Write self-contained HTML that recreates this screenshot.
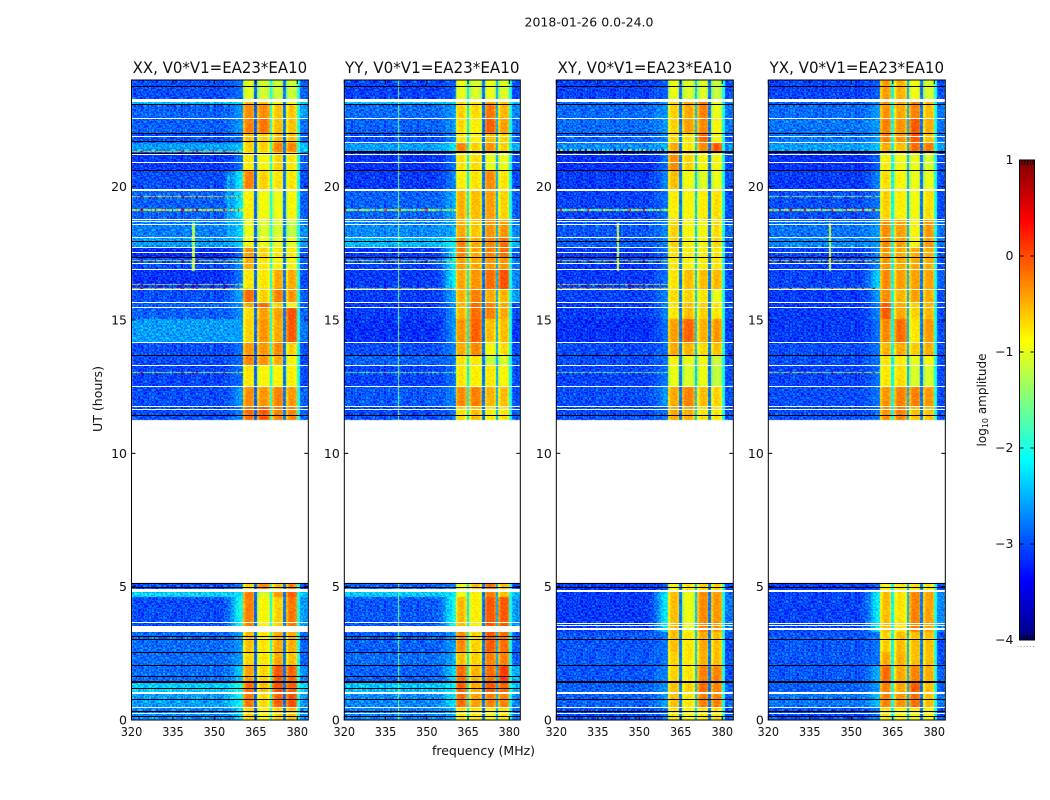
<!DOCTYPE html>
<html lang="en">
<head>
<meta charset="utf-8">
<title>2018-01-26 0.0-24.0</title>
<style>
html,body{margin:0;padding:0;background:#fff;width:1050px;height:800px;overflow:hidden}
#stage{position:relative;width:1050px;height:800px}
canvas{position:absolute;display:block}
svg{position:absolute;left:0;top:0}
text{font-family:"DejaVu Sans","Liberation Sans",sans-serif;fill:#111}
</style>
</head>
<body>
<div id="stage">
<svg id="fig" width="1050" height="800" viewBox="0 0 1050 800">
  <text x="589" y="26.5" font-size="12" text-anchor="middle" textLength="129" lengthAdjust="spacingAndGlyphs">2018-01-26 0.0-24.0</text>
  <text x="483.5" y="755" font-size="12" text-anchor="middle" textLength="103" lengthAdjust="spacingAndGlyphs">frequency (MHz)</text>
  <text transform="translate(102 399) rotate(-90)" font-size="12" text-anchor="middle" textLength="66" lengthAdjust="spacingAndGlyphs">UT (hours)</text>
  <text transform="translate(986 400) rotate(-90)" font-size="12" text-anchor="middle">log<tspan font-size="8" dy="2">10</tspan><tspan dy="-2"> amplitude</tspan></text>
</svg>
</div>
<script>
/* ---------- axes ---------- */
const xTickValues = [320, 335, 350, 365, 380];
const yTickValues = [0, 5, 10, 15, 20];
const colorbarTickValues = [1, 0, -1, -2, -3, -4];
const freqRange = [320, 384];
const timeRange = [0, 24];
const colorRange = [-4, 1];
const dataGapUT = [5.14, 11.23];

/* ---------- polarisation panels ---------- */
const panelLabels = ['XX', 'YY', 'XY', 'YX'];
const panelTitles = ['XX, V0*V1=EA23*EA10', 'YY, V0*V1=EA23*EA10', 'XY, V0*V1=EA23*EA10', 'YX, V0*V1=EA23*EA10'];

/* ---------- spectrum shape (MHz) ---------- */
const bandEdgesMHz = [[360.4, 364.7], [365.7, 370.2], [371, 375.2], [376, 380]];
const stripeEdgeProfile = [-0.3, -0.1, 0, 0, 0.03, 0, 0, -0.05, -0.2];
const midRampStartMHz = 352;
const midRampWeights = [0, 0.05, 0.1, 0.2, 0.35, 0.55, 0.75, 0.9, 1];
const shoulderLevel = -2.0;
const gapLevelsXX = [-2.9, -2.0, -2.8];
const gapLevelsYY = [-2.2, -2.8, -2.5];
const gapLevelsXY = [-2.8, -2.4, -2.8];
const gapLevelsYX = [-2.1, -2.5, -2.8];

/* ---------- time blocks: [top UT, low, mid, band1, band2, band3, band4, high] log10 amplitude ---------- */
const blocksXX = [
[24,-3.0,-2.8,-1.0,-1.1,-1.1,-1.1,-2.9],[23.23,-2.4,-2.2,-.6,-.6,-.9,-.9,-2.3],[23.08,-2.9,-2.6,-.3,-.3,-.6,-.6,-2.6],
[22.56,-2.9,-2.6,-.25,-.2,-.55,-.55,-2.8],[21.99,-3.0,-2.8,-.55,-.65,-.55,-.55,-2.9],[21.66,-2.6,-2.4,-.65,-.65,-.25,-.25,-2.4],
[21.28,-3.1,-2.8,-.75,-.85,-.65,-.75,-2.9],[20.61,-3.0,-2.1,-.25,-.65,-.75,-.75,-3.0],[19.89,-2.9,-2.1,-.8,-.9,-.95,-.85,-2.9],
[18.77,-2.75,-2.3,-.95,-1.05,-1.05,-1.15,-2.7],[18.09,-2.6,-2.3,-.85,-.95,-.95,-.95,-2.6],[17.76,-3.2,-2.8,-.35,-.65,-.75,-.75,-3.0],
[17.34,-3.0,-2.6,-.45,-.75,-.85,-.85,-2.9],[16.89,-3.15,-2.7,-.75,-.75,-.45,-.45,-3.0],[16.14,-3.0,-2.5,-.15,-.65,-.25,-.35,-2.9],
[15.66,-2.9,-2.6,-.45,-.15,-.65,-.85,-2.9],[15.47,-2.9,-2.7,-.7,-.4,-.4,0,-2.9],[15.06,-2.6,-2.6,-.65,-.35,-.45,-.05,-2.8],
[14.16,-3.0,-2.8,-.35,-.35,-.3,-.65,-3.0],[13.67,-3.0,-2.8,-.25,-.35,-.45,-.85,-3.0],[13.29,-3.05,-2.8,-.75,-.85,-.85,-.8,-3.0],
[12.51,-3.0,-2.6,-.3,-.35,-.25,-.35,-2.9],[11.76,-3.0,-2.7,-.15,-.05,-.25,-.25,-2.9],
[5.14,-3.0,-2.7,-.65,-.25,-.55,-.25,-3.0],[4.78,-2.3,-2.2,-.2,-1.05,-.35,-.05,-2.4],[4.59,-3.0,-1.9,-.25,-.85,-.65,-.2,-2.6],
[3.28,-2.85,-2.6,-.55,-.75,-.45,-.45,-2.9],[2.57,-2.85,-2.6,-.65,-.75,-.45,-.55,-2.9],[2.04,-2.85,-2.3,-.4,-.65,-.05,-.1,-2.7],
[1.41,-2.35,-2.0,-.15,-.55,0,-.05,-2.3],[1.03,-2.6,-2.0,-.2,-.7,-.1,0,-2.6],[0.43,-2.7,-2.3,-.65,-.85,-.65,-.55,-2.7]
];
const blocksYY = [
[24,-3.05,-2.9,-.95,-1.05,-.95,-1.05,-3.0],[23.23,-2.4,-2.3,-.7,-.75,-.4,-.6,-2.4],[23.08,-2.85,-2.6,-.65,-.7,-.2,-.5,-2.7],
[22.56,-2.9,-2.6,-.7,-.8,-.1,-.4,-2.8],[21.99,-3.0,-2.7,-.8,-.85,-.55,-.65,-2.9],[21.66,-2.6,-2.2,-.25,-.65,-.35,-.65,-2.5],
[21.28,-3.15,-2.8,-.75,-.7,-.95,-.95,-3.0],[20.61,-3.1,-2.7,-.8,-.75,-.3,-.75,-3.0],[19.89,-2.9,-2.5,-.5,-.55,-.4,-.65,-2.9],
[18.77,-2.7,-2.5,-.45,-.6,-.35,-.35,-2.7],[18.09,-2.45,-2.1,-.25,-.45,-.25,-.15,-2.5],[17.76,-3.1,-2.2,-.25,-.45,-.25,-.15,-2.9],
[17.34,-3.05,-2.1,-.4,-.45,-.35,-.35,-2.8],[16.89,-3.1,-2.1,-.45,-.35,-.15,0,-2.7],[16.14,-3.1,-2.5,-.5,-.25,-.45,-.5,-2.6],
[15.66,-3.1,-2.6,-.5,-.15,-.25,-.45,-3.0],[15.06,-3.15,-2.6,-.35,-.1,-.55,-.55,-3.1],[14.16,-3.0,-2.7,-.45,-.3,-.85,-.7,-3.0],
[13.67,-2.9,-2.8,-.75,-.75,-1.15,-1.05,-2.9],[13.29,-3.05,-2.8,-.75,-.8,-.75,-.85,-3.0],[12.51,-2.95,-2.7,-.3,-.25,-.5,-.55,-3.0],
[11.76,-3.0,-2.8,-.7,-.55,-.8,-.75,-2.9],
[5.14,-2.9,-2.7,-.9,-.55,-.15,-.55,-3.0],[4.89,-2.35,-2.2,-.95,-.8,-.25,-.55,-2.4],[4.59,-2.95,-2.0,-.55,-.8,-.05,-.05,-2.6],
[3.28,-2.9,-2.6,-.3,-.65,-.05,-.15,-2.9],[2.57,-2.85,-2.5,-.55,-.65,-.25,-.25,-2.9],[2.04,-2.9,-2.3,-.15,-.5,-.15,.1,-2.5],
[1.41,-2.4,-2.1,-.1,-.45,-.05,-.1,-2.4],[1.03,-2.7,-2.2,-.15,-.4,-.25,-.25,-2.7],[0.43,-2.75,-2.5,-.75,-.75,-.85,-.75,-2.8]
];
const blocksXY = [
[24,-3.05,-2.9,-.95,-1.05,-1.05,-1.15,-3.0],[23.23,-2.85,-2.6,-.65,-.45,-.25,-.95,-2.8],[22.56,-2.85,-2.6,-.65,-.4,-.3,-.85,-2.8],
[21.99,-2.9,-2.7,-.7,-.75,-.15,-.85,-2.9],[21.66,-2.7,-2.5,-.45,-.75,-.3,-.05,-2.7],[21.28,-3.15,-2.8,-.3,-.65,-.85,-.85,-3.0],
[20.61,-3.1,-2.7,-.55,-.9,-1.05,-.95,-3.0],[19.89,-3.05,-2.8,-.8,-.85,-.8,-.7,-3.0],[18.77,-2.95,-2.7,-.65,-.85,-.85,-.7,-2.9],
[18.09,-2.9,-2.7,-.65,-.8,-.85,-.65,-2.9],[17.76,-3.1,-2.8,-.75,-.8,-.8,-.75,-3.0],[16.89,-3.1,-2.8,-.75,-.55,-.55,-.5,-3.0],
[16.14,-3.05,-2.7,-.7,-.65,-.75,-.95,-3.0],[15.66,-3.1,-2.7,-.75,-.55,-.65,-.75,-3.0],[15.06,-3.15,-2.8,-.4,-.1,-.5,-.35,-3.1],
[14.16,-3.0,-2.8,-.45,-.5,-.7,-.55,-3.0],[13.67,-3.0,-2.8,-.85,-.95,-.9,-1.1,-3.0],[13.29,-3.05,-2.8,-.95,-1.05,-.95,-1.15,-3.0],
[12.51,-3.0,-2.6,-.45,-.25,-.55,-.65,-3.0],[11.76,-3.0,-2.8,-.45,-.45,-.75,-.75,-3.0],
[5.14,-3.1,-2.9,-.85,-.75,-.65,-.65,-3.0],[4.78,-3.1,-2.1,-.55,-.95,-.3,-.35,-2.8],[3.28,-2.95,-2.8,-.55,-.75,-.45,-.55,-3.0],
[2.57,-2.95,-2.8,-.65,-.75,-.5,-.55,-3.0],[2.04,-2.95,-2.7,-.65,-.75,-.25,-.25,-3.0],[1.41,-2.9,-2.6,-.55,-.65,-.15,-.25,-2.9],
[1.03,-2.9,-2.6,-.55,-.75,-.25,-.25,-2.9],[0.43,-3.0,-2.8,-.75,-.85,-.75,-.75,-3.0]
];
const blocksYX = [
[24,-3.05,-2.9,-.4,-.5,-.9,-1.05,-3.0],[23.23,-2.85,-2.6,-.35,-.45,-.25,-.55,-2.8],[22.56,-2.8,-2.6,-.25,-.35,-.05,-.45,-2.8],
[21.99,-2.8,-2.6,-.25,-.35,-.05,-.55,-2.8],[21.66,-2.6,-2.4,-.45,-.55,-.15,-.2,-2.6],[21.28,-3.15,-2.9,-.8,-.9,-.95,-1.05,-3.0],
[20.61,-3.1,-2.7,-.7,-.85,-.95,-.95,-3.0],[19.89,-3.0,-2.8,-.65,-.8,-.9,-.7,-3.0],[18.77,-2.8,-2.6,-.3,-.4,-.85,-.35,-2.8],
[18.09,-2.7,-2.6,-.3,-.4,-.85,-.35,-2.8],[17.76,-3.05,-2.7,-.35,-.45,-.45,-.45,-3.0],[16.89,-3.05,-2.3,-.3,-.4,-.4,-.4,-2.9],
[16.14,-3.1,-2.6,-.3,-.5,-.4,-.45,-3.0],[15.66,-3.1,-2.7,-.05,-.45,-.65,-.5,-3.0],[15.06,-3.1,-2.8,-.3,-.15,-.75,-.35,-3.0],
[14.16,-3.0,-2.8,-.5,-.45,-.6,-.45,-3.0],[13.67,-3.0,-2.8,-.75,-.8,-.95,-.85,-3.0],[13.29,-3.05,-2.8,-.75,-.7,-1.05,-1.05,-3.0],
[12.51,-3.0,-2.8,-.35,-.25,-.25,-.35,-3.0],[11.76,-3.0,-2.8,-.35,-.25,-.55,-.55,-3.0],
[5.14,-3.1,-2.9,-.85,-.75,-.75,-.75,-3.0],[4.78,-3.05,-2.1,-.55,-.75,-.25,-.4,-2.7],[3.28,-2.95,-2.8,-.65,-.55,-.55,-.55,-3.0],
[2.57,-2.95,-2.8,-.45,-.5,-.55,-.55,-3.0],[2.04,-2.95,-2.5,-.15,-.45,-.25,-.45,-2.9],[1.41,-2.9,-2.6,-.25,-.45,-.05,-.55,-2.9],
[1.03,-2.8,-2.4,-.25,-.35,-.15,-.55,-2.8],[0.43,-3.0,-2.8,-.75,-.85,-.85,-.85,-3.0]
];

/* ---------- flagged (blank) times: [centre UT, thickness hours] ---------- */
const whiteFlagsCommon = [[23.23,.1],[22.56,.05],[21.86,.05],[21.21,.05],[20.91,.05],[19.89,.08],[18.77,.05],[18.67,.05],[18.58,.05],[18.09,.05],[17.72,.05],[17.52,.05],[17.11,.05],[16.89,.05],[16.14,.05],[15.66,.05],[15.47,.05],[14.16,.05],[13.30,.05],[12.50,.05],[11.76,.05],[11.66,.04],[1.01,.09],[0.46,.05],[0.24,.04]];
const whiteFlagsXX = [[4.84,.13],[3.64,.05],[3.42,.22]];
const whiteFlagsYY = [[21.66,.05],[4.84,.13],[3.64,.05],[3.42,.22]];
const whiteFlagsXY = [[21.66,.05],[4.84,.08],[3.62,.05],[3.52,.05],[3.41,.06]];
const whiteFlagsYX = [[21.66,.05],[4.84,.08],[3.62,.05],[3.52,.05],[3.41,.06]];
/* ---------- dropped-out (black) times: [centre UT, thickness hours] ---------- */
const blackFlagsCommon = [[23.76,.04],[23.07,.04],[22.0,.04],[20.61,.04],[17.96,.04],[17.34,.04],[13.67,.04],[11.41,.04],[5.12,.04],[4.98,.04],[3.0,.04],[2.06,.04],[1.41,.08],[0.78,.04],[0.3,.04],[0.12,.04]];
const blackFlagsXX = [[21.7,.04],[21.24,.04],[3.12,.04],[2.54,.04],[1.64,.04],[1.17,.04]];
const blackFlagsYY = [[21.28,.08],[3.12,.04],[2.54,.04],[1.64,.04],[1.17,.04]];
const blackFlagsXY = [[21.28,.08]];
const blackFlagsYX = [[21.28,.08]];

/* ---------- narrow interference: [UT, level shift] ---------- */
const rfiXX = [[21.34,.4],[19.63,.6],[19.11,.5],[17.22,.4],[16.32,.5],[16.17,.4],[13.02,.3]];
const rfiYY = [[19.11,.1],[17.22,.2],[16.17,.1],[13.02,-.3]];
const rfiXY = [[21.38,-1.0],[19.11,.1],[17.22,.3],[16.32,.5],[16.17,.4],[13.02,-.3]];
const rfiYX = [[19.63,.1],[19.11,.3],[17.22,.5],[16.17,.3],[13.02,.3]];
const rfiPattern = [-1.9,-2.3,-1.2,-0.7,-1.6,-2.4,-0.2,0.4,-1.0,-1.8,-2.1,-0.9,-1.4,-2.0,-0.5,-1.7,-2.3,0.2,-1.1,-1.9,-1.5,-0.8,-2.2,-1.3,-0.4,-1.6,-2.4,-1.0,-1.8,0.1];
/* [MHz, top UT, bottom UT, level] */
const verticalsXX = [[342.5,18.66,16.86,-1.2],[355,20.5,18.0,-2.45]];
const verticalsYY = [[339.9,24,0,-1.4]];
const verticalsXY = [[342.4,18.66,16.86,-1.1]];
const verticalsYX = [[342.4,18.66,16.86,-1.1]];

/* ---------- visual noise tile: digits 0-9 hand-typed, centred on 4.5 ---------- */
const speckleTile = [
"375194620837152946081735","829461730592846173059284","140738526914073852691407","692815043768291504376829",
"507263981420736198142073","218946075382194607538219","763510428697351042869735","451827693014582769301458",
"936074152869307415286930","284591360742859136074285","610758249361075824936107","875302614982530261498253",
"342169870523416987052341","798436025176843602517684","125680947312568094731256","563917482035391748203539",
"081245736968124573696812","947382150629473821506294","316590874243165908742431","650823417985082341798508"];

/* ---------- axis functions ---------- */
const plotTop = 80, plotBottom = 720;
const panelBoxes = [[131.5,308.3],[344.3,520.3],[556.3,733.3],[768.3,945.3]];
function xScale(p, mhz){ const b = panelBoxes[p]; return b[0] + (mhz - freqRange[0]) * (b[1] - b[0]) / (freqRange[1] - freqRange[0]); }
function yScale(ut){ return plotBottom - (ut - timeRange[0]) * (plotBottom - plotTop) / (timeRange[1] - timeRange[0]); }
function jetChannel(v){ return Math.max(0, Math.min(1, v)); }
function jet(level){
  const f = jetChannel((level - colorRange[0]) / (colorRange[1] - colorRange[0]));
  const r = jetChannel(Math.min(4 * f - 1.5, -4 * f + 4.5));
  const g = jetChannel(Math.min(4 * f - 0.5, -4 * f + 3.5));
  const b = jetChannel(Math.min(4 * f + 0.5, -4 * f + 2.5));
  return 'rgb(' + Math.round(r * 255) + ',' + Math.round(g * 255) + ',' + Math.round(b * 255) + ')';
}
function speckle(row, col){
  const line = speckleTile[row % speckleTile.length];
  return (Number(line[col % line.length]) - 4.5) * 0.09;
}
function blockFor(blocks, ut){
  let found = blocks[0];
  for (const b of blocks) { if (b[0] >= ut) found = b; else break; }
  return found;
}
function cellLevel(blocks, gaps, rfi, verticals, ut, mhz, row, col){
  const b = blockFor(blocks, ut);
  const n = speckle(row, col);
  for (const v of verticals) {
    if (Math.abs(mhz - v[0]) <= 0.25 && ut <= v[1] && ut >= v[2]) return v[3] + n * 0.8;
  }
  if (mhz < bandEdgesMHz[0][0]) {
    for (const r of rfi) {
      if (Math.abs(ut - r[0]) <= 0.03) return rfiPattern[col % rfiPattern.length] + r[1];
    }
    let w = 0;
    if (mhz >= midRampStartMHz) w = midRampWeights[Math.min(midRampWeights.length - 1, Math.floor(mhz - midRampStartMHz))];
    return b[1] + (b[2] - b[1]) * w + n * (1 - 0.4 * w);
  }
  for (let i = 0; i < bandEdgesMHz.length; i++) {
    const e = bandEdgesMHz[i];
    if (mhz >= e[0] && mhz < e[1]) {
      const idx = Math.min(stripeEdgeProfile.length - 1, Math.floor((mhz - e[0]) / (e[1] - e[0]) * stripeEdgeProfile.length));
      return b[3 + i] + stripeEdgeProfile[idx] + n * 0.3;
    }
    if (i < gaps.length && mhz >= e[1] && mhz < bandEdgesMHz[i + 1][0]) return gaps[i] + n * 0.4;
  }
  if (mhz < bandEdgesMHz[3][1] + 1) return shoulderLevel + n * 0.5;
  return b[7] + n * 0.8;
}

const allBlocks = [blocksXX, blocksYY, blocksXY, blocksYX];
const allGaps = [gapLevelsXX, gapLevelsYY, gapLevelsXY, gapLevelsYX];
const allRfi = [rfiXX, rfiYY, rfiXY, rfiYX];
const allVerticals = [verticalsXX, verticalsYY, verticalsXY, verticalsYX];
const allWhite = [whiteFlagsXX, whiteFlagsYY, whiteFlagsXY, whiteFlagsYX];
const allBlack = [blackFlagsXX, blackFlagsYY, blackFlagsXY, blackFlagsYX];

const NS = 'http://www.w3.org/2000/svg';
const stage = document.getElementById('stage');
const fig = document.getElementById('fig');

function svgEl(kind){ const el = document.createElementNS(NS, kind); fig.appendChild(el); return el; }
function box(x, y, w, h, fill){
  const el = svgEl('rect');
  el.setAttribute('x', x); el.setAttribute('y', y); el.setAttribute('width', w); el.setAttribute('height', h);
  el.setAttribute('fill', fill);
  return el;
}
function flagBox(bx, f, fill){
  const y = Math.round(yScale(f[0] + f[1] / 2));
  const h = Math.max(1, Math.round(yScale(0) - yScale(f[1])));
  return box(bx[0], y, bx[1] - bx[0], h, fill);
}
function line(x1, y1, x2, y2){
  const el = svgEl('line');
  el.setAttribute('x1', x1); el.setAttribute('y1', y1); el.setAttribute('x2', x2); el.setAttribute('y2', y2);
  el.setAttribute('stroke', '#000'); el.setAttribute('stroke-width', 1);
  return el;
}
function label(x, y, str, anchor, size){
  const el = svgEl('text');
  el.setAttribute('x', x); el.setAttribute('y', y);
  el.setAttribute('text-anchor', anchor); el.setAttribute('font-size', size);
  el.textContent = str;
  return el;
}

const rowHours = 0.05, colMHz = 0.5;
const rowCount = Math.round((timeRange[1] - timeRange[0]) / rowHours);
const colCount = Math.round((freqRange[1] - freqRange[0]) / colMHz);

panelLabels.forEach(function(name, p){
  const bx = panelBoxes[p];
  const left = Math.floor(bx[0]);
  const cv = document.createElement('canvas');
  
  
  cv.width = Math.ceil(bx[1] - left);
  cv.height = plotBottom - plotTop;
  cv.style.left = left + 'px';
  cv.style.top = plotTop + 'px';
  stage.insertBefore(cv, fig);
  const ctx = cv.getContext('2d');
  for (let r = 0; r < rowCount; r++) {
    const utTop = timeRange[1] - r * rowHours;
    const utBot = utTop - rowHours;
    const utMid = (utTop + utBot) / 2;
    if (utMid > dataGapUT[0] && utMid < dataGapUT[1]) continue;
    const y0 = Math.round(yScale(utTop)) - plotTop;
    const y1 = Math.round(yScale(utBot)) - plotTop;
    for (let c = 0; c < colCount; c++) {
      const mhzLo = freqRange[0] + c * colMHz;
      const x0 = Math.round(xScale(p, mhzLo)) - left;
      const x1 = Math.round(xScale(p, mhzLo + colMHz)) - left;
      ctx.fillStyle = jet(cellLevel(allBlocks[p], allGaps[p], allRfi[p], allVerticals[p], utMid, mhzLo + colMHz / 2, r + p * 5, c + p * 7));
      ctx.fillRect(x0, y0, x1 - x0, y1 - y0);
    }
  }

  whiteFlagsCommon.concat(allWhite[p]).forEach(function(f){
    const el = flagBox(bx, f, '#fff');
    
    
  });
  blackFlagsCommon.concat(allBlack[p]).forEach(function(f){
    const el = flagBox(bx, f, '#000');
    
    
  });

  const frame = svgEl('rect');
  frame.setAttribute('x', bx[0]); frame.setAttribute('y', plotTop);
  frame.setAttribute('width', bx[1] - bx[0]); frame.setAttribute('height', plotBottom - plotTop);
  frame.setAttribute('fill', 'none'); frame.setAttribute('stroke', '#000'); frame.setAttribute('stroke-width', 1);
  
  

  const title = label((bx[0] + bx[1]) / 2, 73, panelTitles[p], 'middle', 16);
  title.setAttribute('textLength', 174.5);
  title.setAttribute('lengthAdjust', 'spacingAndGlyphs');
  
  

  xTickValues.forEach(function(v){
    const x = xScale(p, v);
    const tb = line(x, plotBottom, x, plotBottom - 4);
    
    
    const tt = line(x, plotTop, x, plotTop + 4);
    
    
    const tx = label(x, 736, String(v), 'middle', 12.5);
    tx.setAttribute('textLength', 21.5);
    tx.setAttribute('lengthAdjust', 'spacingAndGlyphs');
    
    
  });
  yTickValues.forEach(function(v){
    const y = yScale(v);
    const tl = line(bx[0], y, bx[0] + 4, y);
    
    
    const tr = line(bx[1], y, bx[1] - 4, y);
    
    
    const ty = label(bx[0] - 4.5, y + 4.5, String(v), 'end', 12.5);
    
    
  });
});

/* ---------- colour bar ---------- */
const cbarLeft = 1019.5, cbarRight = 1034.5, cbarTop = 160, cbarBottom = 640;
function cbarY(level){ return cbarBottom - (level - colorRange[0]) * (cbarBottom - cbarTop) / (colorRange[1] - colorRange[0]); }
const cbarSteps = 240;
for (let i = 0; i < cbarSteps; i++) {
  const lo = colorRange[0] + (colorRange[1] - colorRange[0]) * i / cbarSteps;
  const hi = colorRange[0] + (colorRange[1] - colorRange[0]) * (i + 1) / cbarSteps;
  const seg = box(cbarLeft, cbarY(hi), cbarRight - cbarLeft, cbarY(lo) - cbarY(hi) + 0.3, jet((lo + hi) / 2));
  
  
}
const cbarFrame = svgEl('rect');
cbarFrame.setAttribute('x', cbarLeft); cbarFrame.setAttribute('y', cbarTop);
cbarFrame.setAttribute('width', cbarRight - cbarLeft); cbarFrame.setAttribute('height', cbarBottom - cbarTop);
cbarFrame.setAttribute('fill', 'none'); cbarFrame.setAttribute('stroke', '#000'); cbarFrame.setAttribute('stroke-width', 1);


colorbarTickValues.forEach(function(v){
  const y = cbarY(v);
  const a = line(cbarLeft, y, cbarLeft + 4, y);
  
  
  const b = line(cbarRight, y, cbarRight - 4, y);
  
  
  const t = label(1013.5, y + 4, String(v).replace('-', '\u2212'), 'end', 12.5);
  
  
});
for (let i = 0; i < 5; i++) {
  const x = cbarLeft + 2.5 + i * 2.8;
  const up = line(x, cbarTop, x, cbarTop + 5);
  
  
  const dn = line(x, cbarBottom, x, cbarBottom - 5);
  
  
}
for (let i = 0; i < 6; i++) {
  const dot = box(1017.5 + i * 3.1, 646, 1, 1, '#999');
  
  
}
</script>
</body>
</html>
